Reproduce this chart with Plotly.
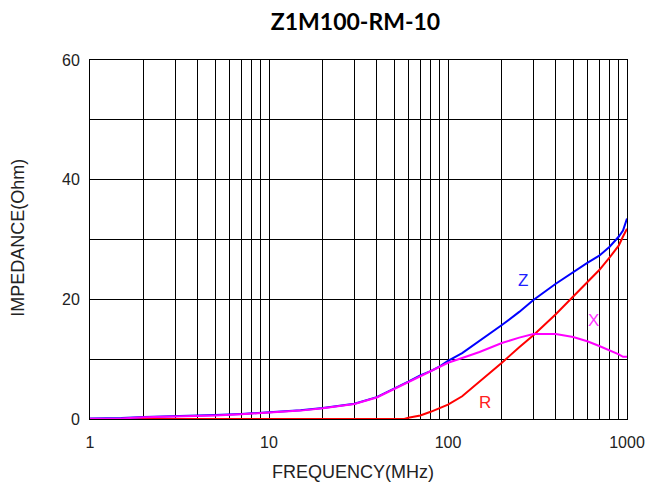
import math
import plotly.graph_objects as go

freq = [1, 1.5, 2, 3, 5, 7, 10, 15, 20, 30, 40, 50, 57, 60, 70, 80, 90, 100, 120, 150, 200, 250,
        300, 400, 500, 600, 700, 800, 900, 950, 1000]
x_vals = [0.05, 0.1, 0.3, 0.4, 0.6, 0.8, 1.1, 1.4, 1.8, 2.5, 3.6, 5.0, 5.8, 6.2, 7.2, 7.9, 8.7, 9.4,
          10.2, 11.2, 12.7, 13.6, 14.2, 14.2, 13.7, 13.0, 12.2, 11.5, 10.8, 10.4, 10.4]
z_vals = [0.1, 0.15, 0.35, 0.45, 0.65, 0.85, 1.15, 1.45, 1.85, 2.55, 3.65, 5.05, 5.85, 6.25, 7.3,
          8.0, 8.8, 9.7, 11.0, 13.0, 15.7, 17.9, 19.9, 22.6, 24.6, 26.1, 27.3, 28.8, 30.5, 31.5, 33.5]
r_vals = [0, 0, 0, 0, 0, 0, 0, 0, 0, 0, 0, 0, 0, 0.2, 0.6, 1.2, 1.8, 2.4, 3.8, 6.2, 9.4, 12.0,
          14.0, 17.5, 20.4, 22.8, 24.9, 27.0, 29.0, 30.5, 31.8]

x_grid = [m * 10 ** d for d in range(3) for m in range(1, 10)] + [1000]
x_ticktext = [str(v) if v in (1, 10, 100, 1000) else "" for v in x_grid]

labels = [("Z", 262, 23.2, "#1f1fff"), ("X", 646, 16.5, "#ff33ff"), ("R", 161, 2.8, "#ff2020")]

fig = go.Figure()
fig.add_trace(go.Scatter(x=freq, y=r_vals, mode="lines", line=dict(color="#ff0000", width=2), name="R"))
fig.add_trace(go.Scatter(x=freq, y=z_vals, mode="lines", line=dict(color="#0000ff", width=2), name="Z"))
fig.add_trace(go.Scatter(x=freq, y=x_vals, mode="lines", line=dict(color="#ff00ff", width=2), name="X"))

for txt, fx, fy, col in labels:
    fig.add_annotation(x=math.log10(fx), y=fy, text=txt, showarrow=False,
                       font=dict(family="Liberation Sans", size=17, color=col))

# axis titles
fig.add_annotation(xref="paper", yref="paper", x=0.49, y=0, yshift=-53, text="FREQUENCY(MHz)",
                   showarrow=False, xanchor="center", yanchor="middle",
                   font=dict(family="Liberation Sans", size=18, color="#222"))
fig.add_annotation(xref="paper", yref="paper", x=0, xshift=-72, y=0.505, text="IMPEDANCE(Ohm)",
                   textangle=-90, showarrow=False, xanchor="center", yanchor="middle",
                   font=dict(family="Liberation Sans", size=18, color="#222"))

fig.update_layout(
    width=646, height=488,
    margin=dict(l=90, r=19, t=60, b=69, autoexpand=False),
    paper_bgcolor="white", plot_bgcolor="white",
    showlegend=False,
    title=dict(text="<b>Z1M100-RM-10</b>", xref="container", x=0.5503, xanchor="center",
               yref="container", y=0.956, yanchor="middle",
               font=dict(family="Lato", size=23, color="black")),
    font=dict(family="Liberation Sans", color="black"),
)
fig.update_xaxes(type="log", range=[0, 3], tickvals=x_grid, ticktext=x_ticktext,
                 showgrid=True, gridcolor="black", gridwidth=1, automargin=False,
                 showline=True, linecolor="black", linewidth=1, mirror=True,
                 ticks="", tickfont=dict(size=16, color="#222"), zeroline=False,
                 ticklabelstandoff=9)
fig.update_yaxes(range=[0, 60], tickvals=[0, 20, 40, 60],
                 showgrid=True, gridcolor="black", gridwidth=1, automargin=False,
                 minor=dict(dtick=10, showgrid=True, gridcolor="black", gridwidth=1),
                 showline=True, linecolor="black", linewidth=1, mirror=True,
                 ticks="", tickfont=dict(size=16, color="#222"), zeroline=False,
                 ticklabelstandoff=6)

fig.write_html("out.html", config={"displayModeBar": False})
with open("out.html", "r", encoding="utf-8") as f:
    html = f.read()
html = html.replace("<body>", '<body style="margin:0;padding:0;overflow:hidden">', 1)
with open("out.html", "w", encoding="utf-8") as f:
    f.write(html)
